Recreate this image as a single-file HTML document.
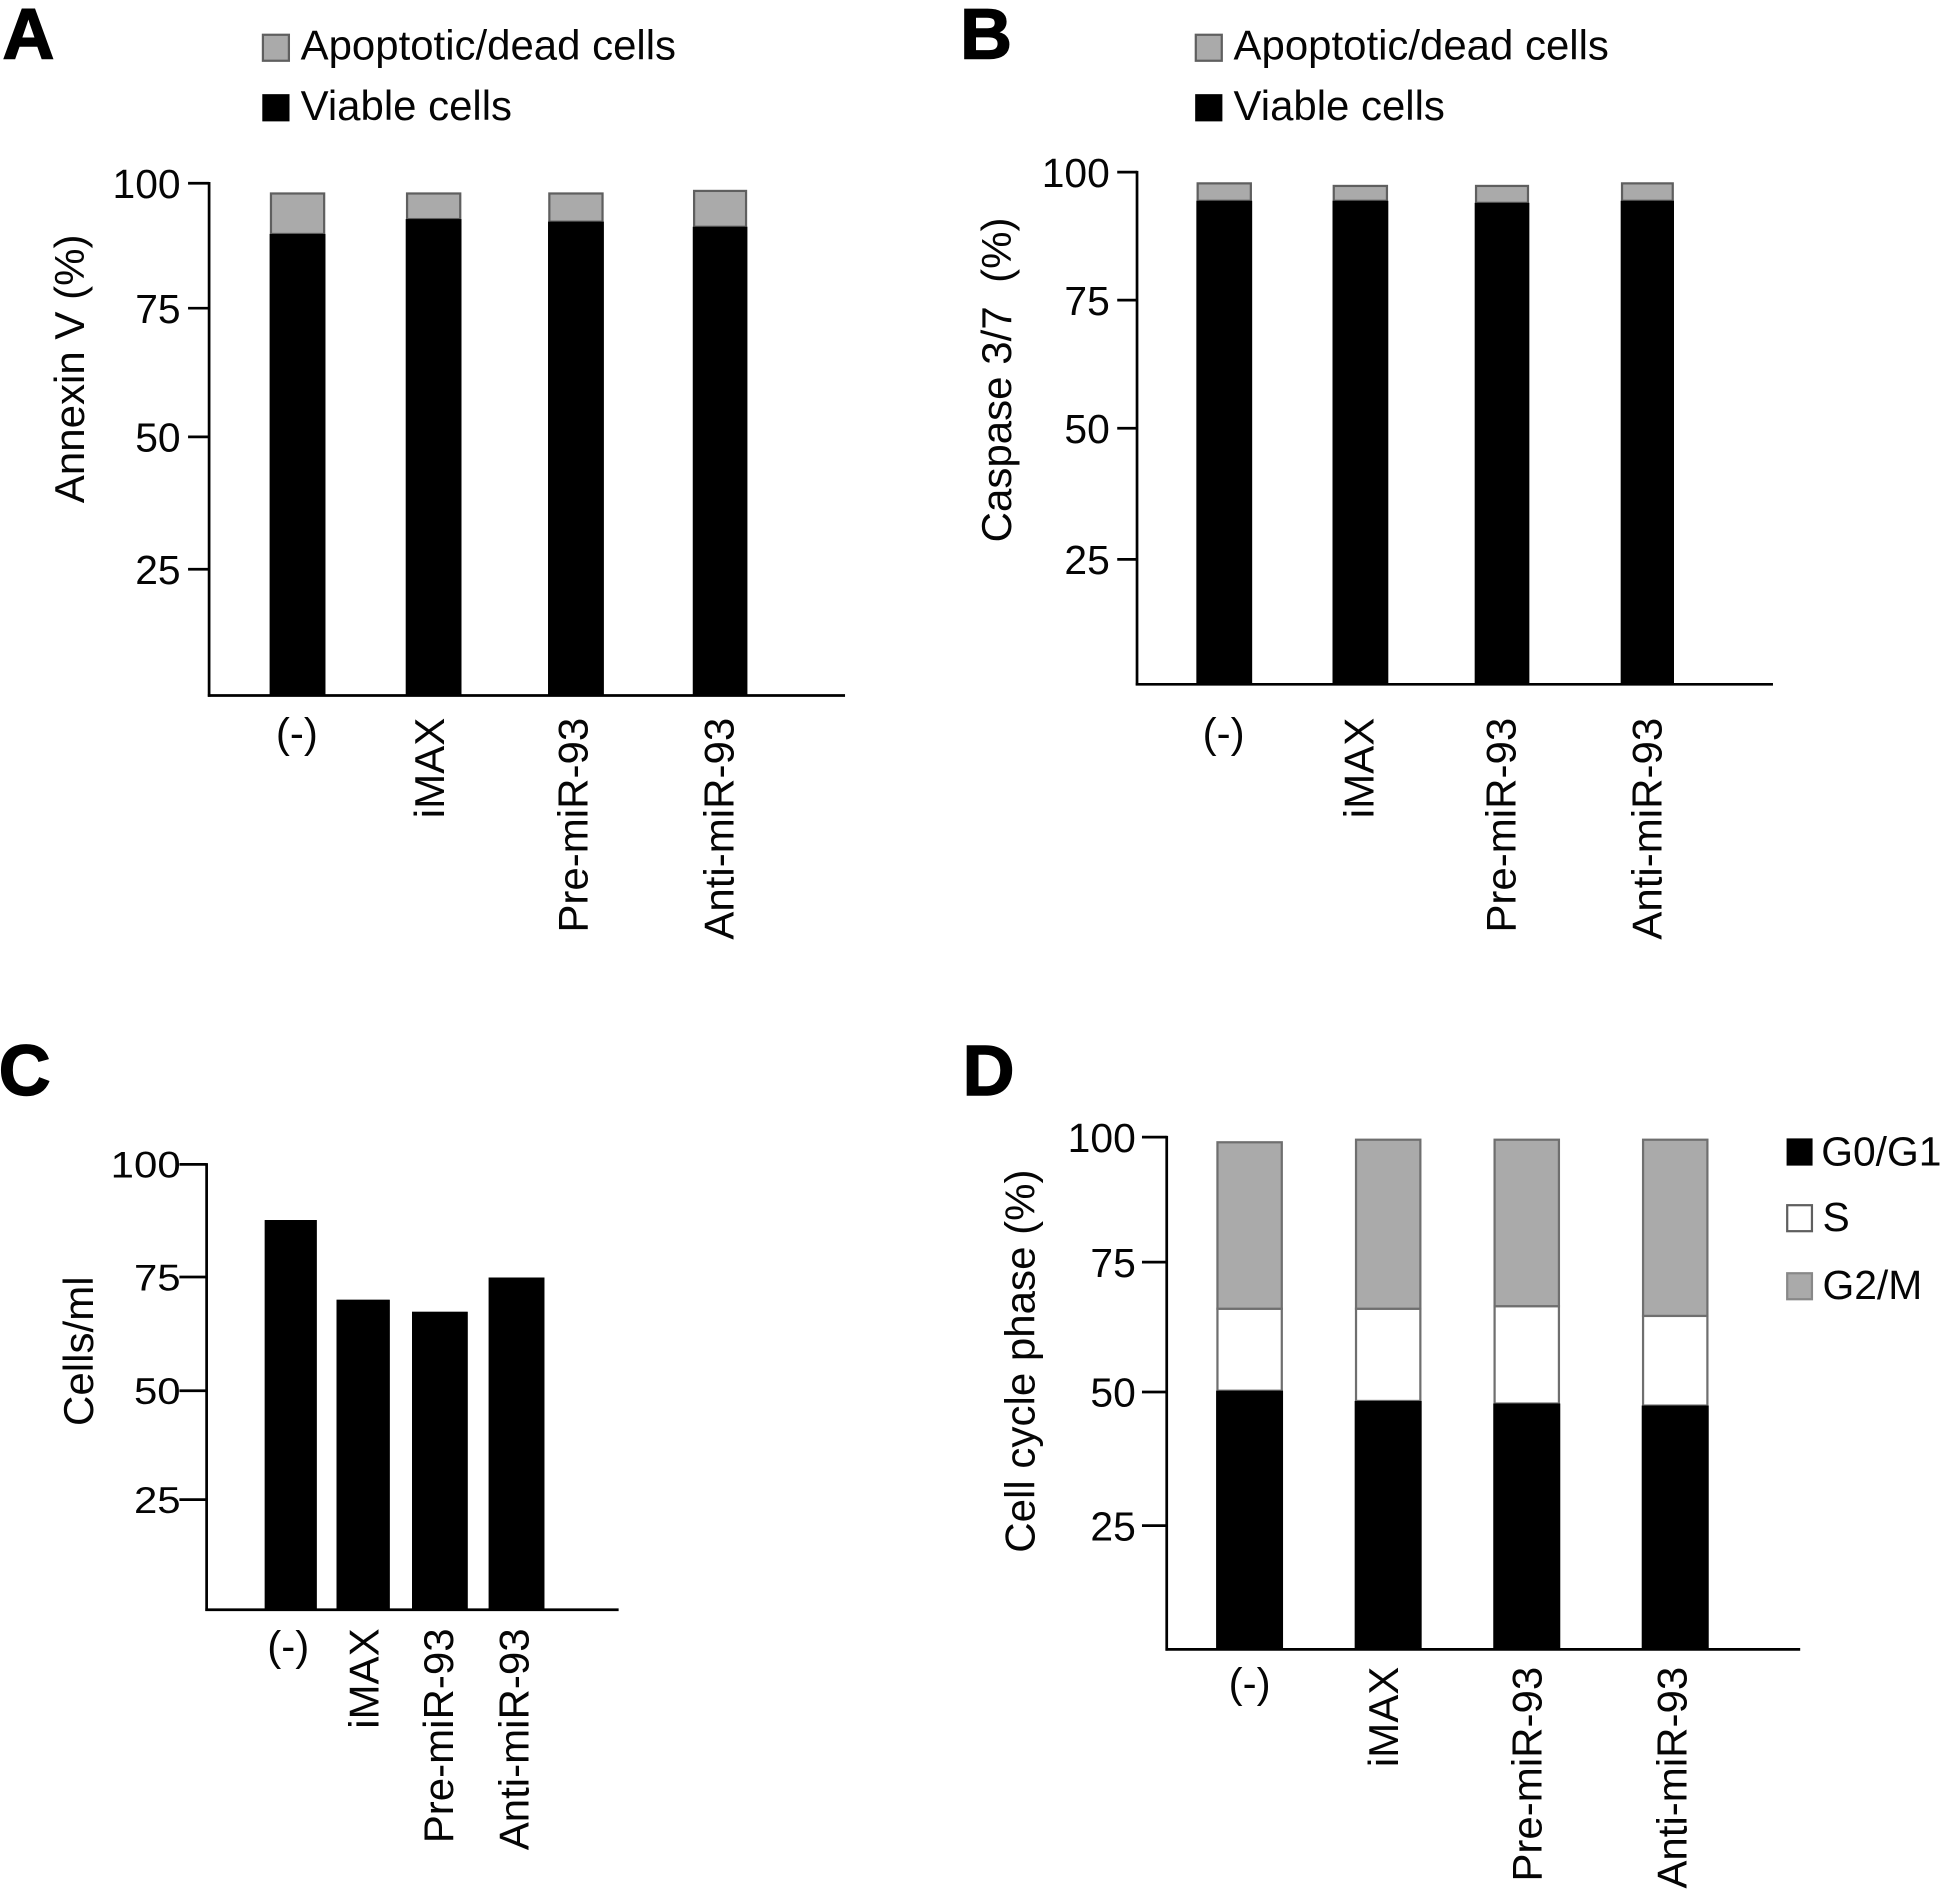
<!DOCTYPE html>
<html lang="en">
<head>
<meta charset="utf-8">
<title>Annexin V, Caspase 3/7, cell count and cell cycle panels</title>
<style>
html,body{margin:0;padding:0;background:#fff;width:1940px;height:1892px;overflow:hidden}
svg{display:block}
text{font-family:"Liberation Sans",Arial,sans-serif;fill:#050505}
.letter{font-weight:700;font-size:58px;stroke:#000;stroke-width:1.2px;fill:#000}
.leg{font-size:33.9px}
.legd{font-size:33px}
</style>
</head>
<body>
<svg id="figure" xmlns="http://www.w3.org/2000/svg" width="1940" height="1892" viewBox="0 0 1568 1529">
  <rect x="0" y="0" width="1568" height="1529" fill="#fff"/>
  <text class="letter" x="2" y="47">A</text>
  <text class="letter" x="776" y="47">B</text>
  <text class="letter" x="-1" y="885">C</text>
  <text class="letter" x="778" y="885">D</text>

  <g>
    <rect x="212.5" y="28" width="21" height="21" fill="#aaa" stroke="#5f5f5f" stroke-width="1.8"/>
    <text class="leg" x="243" y="48">Apoptotic/dead cells</text>
    <rect x="212" y="76" width="22" height="22" fill="#000"/>
    <text class="leg" x="243" y="97">Viable cells</text>
  </g>
  <g>
    <rect x="966.5" y="28" width="21" height="21" fill="#aaa" stroke="#5f5f5f" stroke-width="1.8"/>
    <text class="leg" x="997" y="48">Apoptotic/dead cells</text>
    <rect x="966" y="76" width="22" height="22" fill="#000"/>
    <text class="leg" x="997" y="97">Viable cells</text>
  </g>
  <g>
    <rect x="1444" y="920" width="21" height="22" fill="#000"/>
    <text class="legd" x="1472" y="942">G0/G1</text>
    <rect x="1444.5" y="974" width="20" height="21" fill="#fff" stroke="#5f5f5f" stroke-width="1.8"/>
    <text class="legd" x="1473" y="995">S</text>
    <rect x="1444.5" y="1029" width="20" height="21" fill="#aaa" stroke="#888" stroke-width="1.8"/>
    <text class="legd" x="1473" y="1050">G2/M</text>
  </g>
</svg>
<script>
// ---- data ----
const categories = ["(-)", "iMAX", "Pre-miR-93", "Anti-miR-93"];
const yTickValues = [25, 50, 75, 100];
const annexinViable = [90.1, 93, 92.5, 91.5];
const annexinDead = [7.9, 5, 5.5, 7];
const caspaseViable = [94.4, 94.4, 94, 94.4];
const caspaseDead = [3.4, 2.9, 3.3, 3.4];
const cellsPerMl = [87.5, 69.6, 66.9, 74.6];
const cycleG0G1 = [50.5, 48.5, 48, 47.6];
const cycleS = [16, 18, 19, 17.5];
const cycleG2M = [32.5, 33, 32.5, 34.4];

// ---- layout of each panel (pixels, separate from the data) ----
const panels = [
  { id: "a", title: "Annexin V (%)", axisX: 169, axisEnd: 683, base: 562, unit: 4.14, tickLen: 17, tickX: 146, tickFont: 33,
    tickNudge: [1.5, -2, -2.5, 0],
    centers: [240.5, 350.5, 465.5, 582], widths: [45, 45, 45, 44], labelX: [240, 359, 475, 593], labelTop: 580, parenY: 604,
    titleX: 68, titleY: 298,
    series: [
      { key: "viable", values: annexinViable, fill: "#000", stroke: "none" },
      { key: "dead", values: annexinDead, fill: "#aaa", stroke: "#5f5f5f" }
    ] },
  { id: "b", title: "Caspase 3/7  (%)", axisX: 919, axisEnd: 1433, base: 553, unit: 4.14, tickLen: 16, tickX: 897, tickFont: 33,
    tickNudge: [2.5, 0, 0, 0],
    centers: [989.5, 1099.5, 1214, 1331.5], widths: [45, 45, 44, 43], labelX: [989, 1110, 1225, 1343], labelTop: 580, parenY: 604,
    titleX: 817, titleY: 307,
    series: [
      { key: "viable", values: caspaseViable, fill: "#000", stroke: "none" },
      { key: "dead", values: caspaseDead, fill: "#aaa", stroke: "#5f5f5f" }
    ] },
  { id: "c", title: "Cells/ml", axisX: 167, axisEnd: 500, base: 1301, unit: 3.6, tickLen: 22, tickX: 146, tickFont: 30, tickStretch: 1.13,
    tickNudge: [1, 3, 1, 0],
    centers: [235, 293.5, 355.5, 417.5], widths: [42, 43, 45, 45], labelX: [233, 306, 366, 427], labelTop: 1316, parenY: 1342,
    titleX: 75, titleY: 1092,
    series: [
      { key: "cells", values: cellsPerMl, fill: "#000", stroke: "none" }
    ] },
  { id: "d", title: "Cell cycle phase (%)", axisX: 943, axisEnd: 1455, base: 1333, unit: 4.14, tickLen: 20, tickX: 918, tickFont: 33,
    tickNudge: [3.5, -1, -2.5, 0],
    centers: [1010, 1122, 1234, 1354], widths: [54, 54, 54, 54], labelX: [1010, 1130, 1246, 1363], labelTop: 1347, parenY: 1372,
    titleX: 836, titleY: 1100,
    series: [
      { key: "g0g1", values: cycleG0G1, fill: "#000", stroke: "none" },
      { key: "s", values: cycleS, fill: "#fff", stroke: "#6f6f6f" },
      { key: "g2m", values: cycleG2M, fill: "#aaa", stroke: "#6f6f6f" }
    ] }
];

// ---- axis functions and drawing ----
const NS = "http://www.w3.org/2000/svg";
const root = document.getElementById("figure");
const INK = "#000";

function yScale(panel, value) {
  return panel.base - value * panel.unit;
}
function xScale(panel, index) {
  return panel.centers[index];
}
function make(tag, parent, props) {
  const node = document.createElementNS(NS, tag);
  Object.keys(props).forEach(function (k) { node.setAttribute(k, props[k]); });
  parent.appendChild(node);
  return node;
}

panels.forEach(function (panel) {
  const g = make("g", root, {});
  
  

  // bars
  categories.forEach(function (cat, i) {
    let cumulative = 0;
    const half = panel.widths[i] / 2;
    panel.series.forEach(function (s) {
      const y0 = yScale(panel, cumulative);
      cumulative += s.values[i];
      const y1 = yScale(panel, cumulative);
      const inset = s.stroke === "none" ? 0 : 1;
      const bar = make("rect", g, {
        x: xScale(panel, i) - half + inset,
        y: y1,
        width: panel.widths[i] - inset * 2,
        height: Math.max(0, y0 - y1),
        fill: s.fill,
        stroke: s.stroke,
        "stroke-width": s.stroke === "none" ? 0 : 1.8
      });
      
      
    });
    // bottom segment redrawn on top so the outline of the next segment does not bite into it
    const first = panel.series[0];
    const yTop = yScale(panel, first.values[i]);
    const cap = make("rect", g, {
      x: xScale(panel, i) - half,
      y: yTop,
      width: panel.widths[i],
      height: panel.base - yTop,
      fill: first.fill
    });
    
    

    // category labels
    let label;
    if (cat === "(-)") {
      label = make("text", g, { x: panel.labelX[i], y: panel.parenY, "text-anchor": "middle", "font-size": 34 });
    } else {
      label = make("text", g, {
        x: 0, y: 0, "text-anchor": "end", "font-size": 34,
        transform: "translate(" + panel.labelX[i] + "," + panel.labelTop + ") rotate(-90)"
      });
    }
    label.textContent = cat;
    
    
  });

  // axes
  const yAxis = make("line", g, {
    x1: panel.axisX, x2: panel.axisX, y1: yScale(panel, 100) - 1, y2: panel.base + 1, stroke: INK, "stroke-width": 2.2
  });
  
  
  const xAxis = make("line", g, {
    x1: panel.axisX - 1, x2: panel.axisEnd, y1: panel.base, y2: panel.base, stroke: INK, "stroke-width": 2.2
  });
  
  

  // ticks
  yTickValues.forEach(function (v, t) {
    const y = yScale(panel, v) + panel.tickNudge[t];
    const tick = make("line", g, {
      x1: panel.axisX - panel.tickLen, x2: panel.axisX, y1: y, y2: y, stroke: INK, "stroke-width": 2.2
    });
    
    
    const stretch = panel.tickStretch || 1;
    const tl = make("text", g, {
      x: 0, y: 0, "text-anchor": "end", "font-size": panel.tickFont,
      transform: "translate(" + panel.tickX + "," + (y + panel.tickFont * 0.36) + ") scale(" + stretch + ",1)"
    });
    tl.textContent = String(v);
    
    
  });

  // axis title
  const title = make("text", g, {
    x: 0, y: 0, "text-anchor": "middle", "font-size": 34,
    transform: "translate(" + panel.titleX + "," + panel.titleY + ") rotate(-90)"
  });
  title.style.whiteSpace = "pre";
  title.textContent = panel.title;
  
  
});
</script>
</body>
</html>
